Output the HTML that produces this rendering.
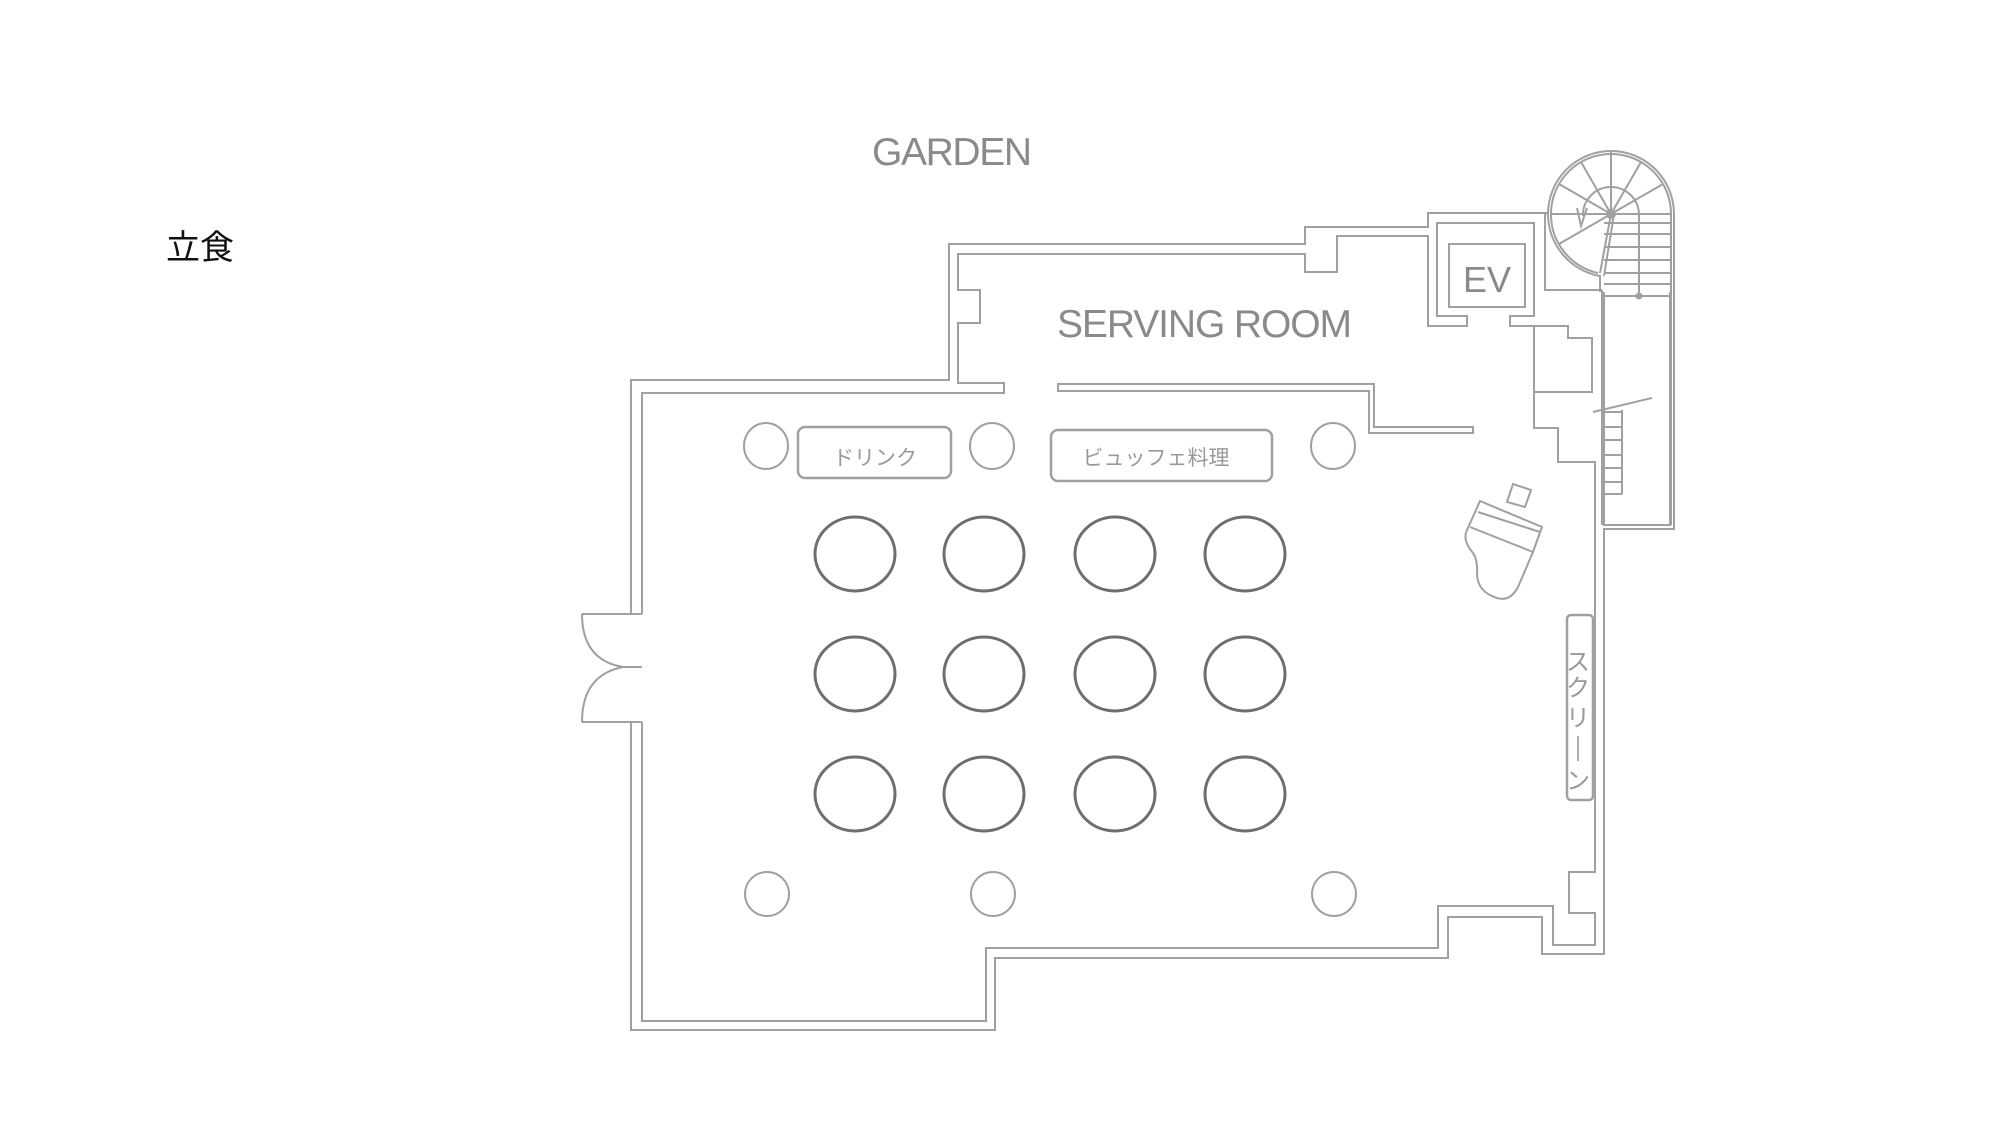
<!DOCTYPE html>
<html><head><meta charset="utf-8"><style>
html,body{margin:0;padding:0;background:#fff;}
svg{display:block;}
</style></head><body>
<svg width="2000" height="1125" viewBox="0 0 2000 1125" xmlns="http://www.w3.org/2000/svg">
<g fill="none" stroke="#a0a0a0" stroke-width="2" stroke-linejoin="miter">
<path d="M631,614 V380 H949 V244 H1305 V227 H1428 V213 H1548"/>
<path d="M1545,213 V290 H1602"/>
<path d="M1674,214 V529 H1604 V954 H1542 V917 H1448 V958 H995 V1030 H631 V722"/>
<path d="M642,614 V393 H1004 V383 H958 V323 H980 V290 H958 V254 H1305 V272 H1337 V236 H1428 V326 H1467 V316 H1437 V223 H1534 V316 H1510 V326 H1568 V338 H1592 V392 H1534 V326"/>
<path d="M1534,392 V428 H1558 V462 H1595 V872 H1569 V913 H1595 V945 H1553 V906 H1438 V948 H986 V1021 H642 V722"/>
<path d="M1058,384 H1374 V427 H1473 V433 H1369 V391 H1058 Z"/>
<rect x="1449" y="244" width="76" height="63"/>
<path d="M1602,290 V525 M1604,292 V525 H1670 V292"/>
<path d="M1548,214 A63,63 0 0 1 1674,214"/>
<path d="M1551,214 A60,60 0 0 1 1671,214 V525"/>
<path d="M1548,214 A63,63 0 0 0 1600,276 V292 M1551,214 A60,60 0 0 0 1598,273"/>
<path d="M1611,214 V151 M1611,214 L1641,162 M1611,214 L1663,184 M1611,214 L1581,162 M1611,214 L1559,184 M1611,214 H1551 M1611,214 L1559,244 M1611,214 L1600,273 M1614,214 L1604,276 M1611,214 H1670"/>
<path d="M1583,216 A28,28 0 0 1 1639,214 V296"/>
<path d="M1577,208 L1581,226 L1587,208"/>
<circle cx="1611" cy="214" r="4" fill="#a0a0a0"/>
<circle cx="1639" cy="296" r="2.5" fill="#a0a0a0"/>
<path d="M1604,223 H1670 M1604,234 H1670 M1604,247 H1670 M1604,260 H1670 M1604,273 H1670 M1604,284 H1670 M1604,296 H1670"/>
<path d="M1604,412 H1622 M1604,427 H1622 M1604,440 H1622 M1604,455 H1622 M1604,468 H1622 M1604,482 H1622 M1604,494 H1622 M1622,410 V494 M1593,412 L1652,398"/>
<path d="M582,614 H642 M582,722 H642 M582,614 Q582,660 623,667 H642 M582,722 Q582,675 623,667"/>
<path d="M1480,501 L1542,527 L1533,552 L1518,587 Q1510,602 1497,598 Q1478,592 1477,575 Q1478,560 1473,553 Q1462,540 1467,530 Z"/>
<path d="M1478,512 L1540,532 M1470,527 L1533,552"/>
<path d="M1513,484 L1531,490 L1525,507 L1507,502 Z"/>
<ellipse cx="766" cy="446" rx="22" ry="23"/>
<ellipse cx="992" cy="446" rx="22" ry="23"/>
<ellipse cx="1333" cy="446" rx="22" ry="23"/>
<circle cx="767" cy="894" r="22"/>
<circle cx="993" cy="894" r="22"/>
<circle cx="1334" cy="894" r="22"/>
<rect x="798" y="427" width="153" height="51" rx="7" stroke-width="2.5"/>
<rect x="1051" y="430" width="221" height="51" rx="7" stroke-width="2.5"/>
<rect x="1567" y="615" width="26" height="185" rx="4" stroke-width="2.5"/>
</g>
<g fill="none" stroke="#6e6e6e" stroke-width="3">
<ellipse cx="855" cy="554" rx="40" ry="37"/><ellipse cx="984" cy="554" rx="40" ry="37"/><ellipse cx="1115" cy="554" rx="40" ry="37"/><ellipse cx="1245" cy="554" rx="40" ry="37"/>
<ellipse cx="855" cy="674" rx="40" ry="37"/><ellipse cx="984" cy="674" rx="40" ry="37"/><ellipse cx="1115" cy="674" rx="40" ry="37"/><ellipse cx="1245" cy="674" rx="40" ry="37"/>
<ellipse cx="855" cy="794" rx="40" ry="37"/><ellipse cx="984" cy="794" rx="40" ry="37"/><ellipse cx="1115" cy="794" rx="40" ry="37"/><ellipse cx="1245" cy="794" rx="40" ry="37"/>
</g>
<g font-family="'Liberation Sans','Noto Sans CJK JP',sans-serif" fill="#8a8a8a">
<text x="872" y="165" font-size="39" textLength="160">GARDEN</text>
<text x="1057" y="337" font-size="39" textLength="295">SERVING ROOM</text>
<text x="1487" y="292" font-size="36" text-anchor="middle">EV</text>
<text x="875" y="465" font-size="21" text-anchor="middle" fill="#999">ドリンク</text>
<text x="1156" y="465" font-size="21" text-anchor="middle" fill="#999">ビュッフェ料理</text>
<g font-size="24" text-anchor="middle" fill="#999">
<text x="1578" y="670">ス</text>
<text x="1578" y="696">ク</text>
<text x="1578" y="726">リ</text>
<text x="1578" y="789">ン</text>
</g>
</g>
<path d="M1578,736 V761" stroke="#999" stroke-width="1.6"/>
<text x="166" y="259" font-family="'Liberation Sans','Noto Sans CJK JP',sans-serif" font-size="34" fill="#111">立食</text>
</svg>
</body></html>
